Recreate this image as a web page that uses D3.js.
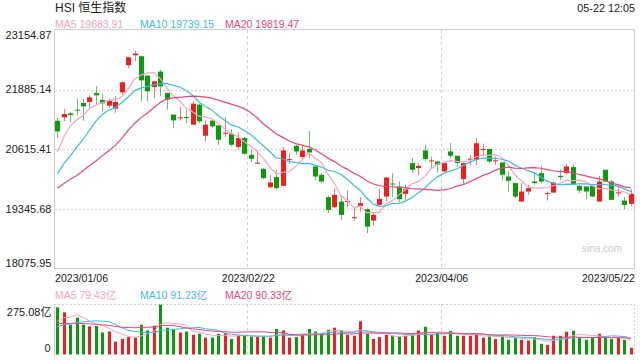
<!DOCTYPE html>
<html><head><meta charset="utf-8">
<script src="https://cdn.jsdelivr.net/npm/d3@7"></script>
<style>body{margin:0;background:#fff}svg{display:block}</style>
</head><body>
<svg id="c" width="640" height="360"></svg>
<script>
// ---------- data ----------
const dates = [
"2023/01/06","2023/01/09","2023/01/10","2023/01/11","2023/01/12","2023/01/13","2023/01/16","2023/01/17","2023/01/18","2023/01/19",
"2023/01/20","2023/01/26","2023/01/27","2023/01/30","2023/01/31","2023/02/01","2023/02/02","2023/02/03","2023/02/06","2023/02/07",
"2023/02/08","2023/02/09","2023/02/10","2023/02/13","2023/02/14","2023/02/15","2023/02/16","2023/02/17","2023/02/20","2023/02/21",
"2023/02/22","2023/02/23","2023/02/24","2023/02/27","2023/02/28","2023/03/01","2023/03/02","2023/03/03","2023/03/06","2023/03/07",
"2023/03/08","2023/03/09","2023/03/10","2023/03/13","2023/03/14","2023/03/15","2023/03/16","2023/03/17","2023/03/20","2023/03/21",
"2023/03/22","2023/03/23","2023/03/24","2023/03/27","2023/03/28","2023/03/29","2023/03/30","2023/03/31","2023/04/03","2023/04/04",
"2023/04/06","2023/04/11","2023/04/12","2023/04/13","2023/04/14","2023/04/17","2023/04/18","2023/04/19","2023/04/20","2023/04/21",
"2023/04/24","2023/04/25","2023/04/26","2023/04/27","2023/04/28","2023/05/02","2023/05/03","2023/05/04","2023/05/05","2023/05/08",
"2023/05/09","2023/05/10","2023/05/11","2023/05/12","2023/05/15","2023/05/16","2023/05/17","2023/05/18","2023/05/19","2023/05/22"];
const opens = [21223,21294,21379,21458,21601,21623,21815,21665,21544,21480,
21827,22404,22617,22596,22184,21943,22269,21815,21352,21272,
21302,21138,21565,20903,21224,21123,20946,20946,20662,20854,
20498,20310,20199,19808,20022,19836,20391,20690,20449,20620,
20248,20071,19595,19382,19501,19501,19153,19410,19339,19096,
19431,19608,19886,19822,19666,20321,20214,20590,20363,20355,
20142,20568,20477,19979,20400,20391,20612,20620,20369,20334,
20035,19894,19501,19715,19928,20107,19672,19693,20049,20107,
20235,19836,19822,19836,19501,20178,19928,19687,19523,19452];
const highs = [21281,21473,21409,21693,21693,21764,21955,21794,21693,21742,
22062,22580,22717,22610,22190,22070,22312,21820,21360,21516,
21458,21635,21586,21230,21245,21130,21302,21046,20974,20876,
20605,20590,20213,20071,20178,20662,20534,20711,20690,21003,
20255,20107,19623,19787,19608,19736,19382,19595,19360,19266,
19766,20020,20107,19928,19858,20428,20321,20711,20462,20360,
20334,20748,20480,20325,20498,20854,20733,20625,20462,20340,
20142,19900,19894,19858,20142,20263,19715,19928,20192,20306,
20285,19858,19825,19858,20049,20182,19964,19836,19595,19766];
const lows = [20854,21208,21196,21337,21224,21495,21565,21422,21495,21388,
21778,22348,22489,21635,21635,21708,21742,21458,21068,21225,
21160,21130,21175,20782,21068,20711,20876,20675,20605,20498,
20334,20300,19979,19787,19766,19830,20306,20498,20391,20427,
19949,19894,19260,19360,19111,19382,19096,19288,18827,18983,
19410,19501,19595,19480,19538,20107,20071,20355,20214,20120,
20120,20427,20236,19880,20285,20285,20477,20321,20285,19964,
19714,19574,19495,19644,19858,19894,19523,19680,19964,20071,
19858,19680,19552,19595,19495,19925,19535,19608,19339,19395];
const closes = [20995,21366,21345,21437,21529,21721,21764,21593,21650,21623,
22041,22574,22653,22083,21849,22062,21955,21672,21230,21294,
21280,21586,21209,21138,21102,20818,20967,20711,20854,20519,
20413,20330,20000,19907,19787,20590,20405,20568,20590,20547,
20035,19928,19324,19645,19217,19516,19168,19467,18968,19218,
19559,20014,19873,19552,19766,20178,20263,20406,20376,20285,
20321,20477,20321,20321,20413,20743,20620,20355,20380,20071,
19943,19608,19715,19787,19894,19928,19680,19907,20022,20248,
19879,19736,19715,19608,19928,19928,19538,19697,19431,19666];
// closes of the 19 sessions before the window (needed for the moving averages)
const prevCloses = [19450,19450,19900,19463,19596,19673,19450,19450,19352,19094,19160,19679,19593,19898,19741,19781,20145,20793,21052];
// turnover, 亿
const volumes = [257,230,162,201,162,153,155,120,125,70,
85,95,92,162,131,157,272,146,140,120,
125,107,113,92,92,113,117,85,102,102,
98,98,98,92,139,131,92,95,107,139,
125,113,135,146,131,107,102,181,113,85,
95,107,103,98,102,107,131,151,107,117,
102,129,102,102,102,111,92,98,85,103,
80,92,80,76,95,58,52,102,102,124,
129,95,80,92,113,92,85,92,80,37];
const prevVolumes = [190,175,200,185,180,195,170,190,185,190,110,125,120,130,115,130,140,138,235];
const yTicks = [23154.87,21885.14,20615.41,19345.68,18075.95];
const volMax = 275.08;
const xTickDates = ["2023/01/06","2023/02/22","2023/04/06","2023/05/22"];
const maPeriods = [5,10,20];
const priceLegend = ["MA5 19683.91","MA10 19739.15","MA20 19819.47"];
const volLegend = ["MA5 79.43亿","MA10 91.23亿","MA20 90.33亿"];
const title = "HSI 恒生指数";
const timeText = "05-22 12:05";

// ---------- drawing ----------
const svg = d3.select("#c");
const FONT = "'Liberation Sans', Arial, 'Noto Sans CJK SC', sans-serif";
const RED = "#f31d1d", GREEN = "#0a9c0a";
const MACOL = ["#f7a3c2", "#3bbde2", "#e9467f"];
const L = 54, R = 634, T = 30, B = 268.5;
const VT = 304, VB = 354.5;
const N = dates.length;

const x = d3.scaleBand().domain(dates).range([L, R]).paddingInner(0).paddingOuter(0);
const bw = x.bandwidth();
const cx = d => x(d) + bw / 2;
const y = d3.scaleLinear().domain([yTicks[4], yTicks[0]]).range([B, T]);
const yv = d3.scaleLinear().domain([0, volMax]).range([VB, VT]);

function movingAvg(all, n, off) {
  return d3.range(N).map(i => d3.mean(all.slice(i + off - n + 1, i + off + 1)));
}
const allC = prevCloses.concat(closes);
const allV = prevVolumes.concat(volumes);

// main box
svg.append("rect").attr("x", L + 0.5).attr("y", T - 0.5).attr("width", R - L).attr("height", B - T + 0.5)
  .attr("fill", "none").attr("stroke", "#cfcfcf");
// horizontal grid
svg.selectAll(".hg").data(yTicks.slice(1, 4)).enter().append("line")
  .attr("x1", L + 1).attr("x2", R).attr("y1", d => Math.round(y(d)) + 0.5).attr("y2", d => Math.round(y(d)) + 0.5)
  .attr("stroke", "#d9d9d9").attr("stroke-width", 1.3).attr("stroke-dasharray", "2,2");
// vertical grid (main + volume)
const vgrid = xTickDates.slice(1, 3);
svg.selectAll(".vg").data(vgrid).enter().append("line")
  .attr("x1", d => Math.round(x(d)) + 0.5).attr("x2", d => Math.round(x(d)) + 0.5)
  .attr("y1", T).attr("y2", B).attr("stroke", "#cfcfcf").attr("stroke-dasharray", "3,3");
svg.selectAll(".vg2").data(vgrid).enter().append("line")
  .attr("x1", d => Math.round(x(d)) + 0.5).attr("x2", d => Math.round(x(d)) + 0.5)
  .attr("y1", VT).attr("y2", VB).attr("stroke", "#cfcfcf").attr("stroke-dasharray", "3,3");

// volume panel frame
svg.append("line").attr("x1", L).attr("x2", R + 0.5).attr("y1", VT + 0.5).attr("y2", VT + 0.5)
  .attr("stroke", "#cfcfcf").attr("stroke-dasharray", "2,2");
svg.append("line").attr("x1", R + 0.5).attr("x2", R + 0.5).attr("y1", VT).attr("y2", VB)
  .attr("stroke", "#cfcfcf").attr("stroke-dasharray", "2,2");
svg.append("line").attr("x1", L + 0.5).attr("x2", L + 0.5).attr("y1", VT).attr("y2", VB + 1)
  .attr("stroke", "#cfcfcf");

// y labels
svg.selectAll(".yl").data(yTicks).enter().append("text")
  .attr("x", 51.5).attr("y", d => Math.max(39, Math.min(266.5, y(d) + 3.8)))
  .attr("text-anchor", "end").attr("font-family", FONT).attr("font-size", 11).attr("fill", "#222")
  .text(d => d.toFixed(2));
// x labels
svg.selectAll(".xl").data(xTickDates).enter().append("text")
  .attr("x", (d, i) => i === 0 ? L + 1 : (i === xTickDates.length - 1 ? R + 1 : x(d) + 1))
  .attr("y", 281.5)
  .attr("text-anchor", (d, i) => i === 0 ? "start" : (i === xTickDates.length - 1 ? "end" : "middle"))
  .attr("font-family", FONT).attr("font-size", 10.6).attr("fill", "#222").text(d => d);

// watermark
svg.append("text").attr("x", 622).attr("y", 252).attr("text-anchor", "end")
  .attr("font-family", FONT).attr("font-size", 10).attr("fill", "#cccccc").text("sina.com");

// title & time
svg.append("text").attr("x", 55).attr("y", 12).attr("font-family", FONT).attr("font-size", 12)
  .attr("fill", "#222").text(title);
svg.append("text").attr("x", 635).attr("y", 12).attr("text-anchor", "end").attr("font-family", FONT)
  .attr("font-size", 10.8).attr("fill", "#222").text(timeText);

// legends
const legX = [55, 140, 225];
svg.selectAll(".pl").data(priceLegend).enter().append("text")
  .attr("x", (d, i) => legX[i]).attr("y", 27.5).attr("font-family", FONT).attr("font-size", 10.5)
  .attr("fill", (d, i) => MACOL[i]).text(d => d);
svg.selectAll(".vl").data(volLegend).enter().append("text")
  .attr("x", (d, i) => legX[i]).attr("y", 299).attr("font-family", FONT).attr("font-size", 10.5)
  .attr("fill", (d, i) => MACOL[i]).text(d => d);
// volume axis labels
svg.append("text").attr("x", 51.5).attr("y", 316).attr("text-anchor", "end").attr("font-family", FONT)
  .attr("font-size", 11).attr("fill", "#222").text(volMax.toFixed(2) + "亿");
svg.append("text").attr("x", 50.5).attr("y", 352).attr("text-anchor", "end").attr("font-family", FONT)
  .attr("font-size", 11).attr("fill", "#222").text("0");

// candles
const candles = d3.range(N).map(i => ({d: dates[i], o: opens[i], h: highs[i], l: lows[i], c: closes[i], v: volumes[i]}));
const col = k => k.c >= k.o ? RED : GREEN;
const g = svg.append("g");
g.selectAll(".wick").data(candles).enter().append("line")
  .attr("x1", k => Math.round(cx(k.d)) + 0.5).attr("x2", k => Math.round(cx(k.d)) + 0.5)
  .attr("y1", k => y(k.h)).attr("y2", k => y(k.l))
  .attr("stroke", col).attr("stroke-opacity", 0.6).attr("stroke-width", 1);
g.selectAll(".body").data(candles).enter().append("rect")
  .attr("x", k => Math.round(cx(k.d)) - 2).attr("width", 5)
  .attr("y", k => y(Math.max(k.o, k.c)))
  .attr("height", k => Math.max(1, Math.abs(y(k.o) - y(k.c))))
  .attr("fill", col);

// price MAs
maPeriods.forEach((n, j) => {
  const ma = movingAvg(allC, n, prevCloses.length);
  svg.append("path").datum(ma)
    .attr("d", d3.line().x((d, i) => cx(dates[i])).y(d => y(d)))
    .attr("fill", "none").attr("stroke", MACOL[j]).attr("stroke-width", 1.2);
});

// volume bars
svg.selectAll(".vb").data(candles).enter().append("rect")
  .attr("x", k => Math.round(cx(k.d)) - 1).attr("width", 3)
  .attr("y", k => yv(k.v)).attr("height", k => VB - yv(k.v))
  .attr("fill", col);
// volume MAs
maPeriods.forEach((n, j) => {
  const ma = movingAvg(allV, n, prevVolumes.length);
  svg.append("path").datum(ma)
    .attr("d", d3.line().x((d, i) => cx(dates[i])).y(d => yv(d)))
    .attr("fill", "none").attr("stroke", MACOL[j]).attr("stroke-width", 1);
});
</script>
</body></html>
